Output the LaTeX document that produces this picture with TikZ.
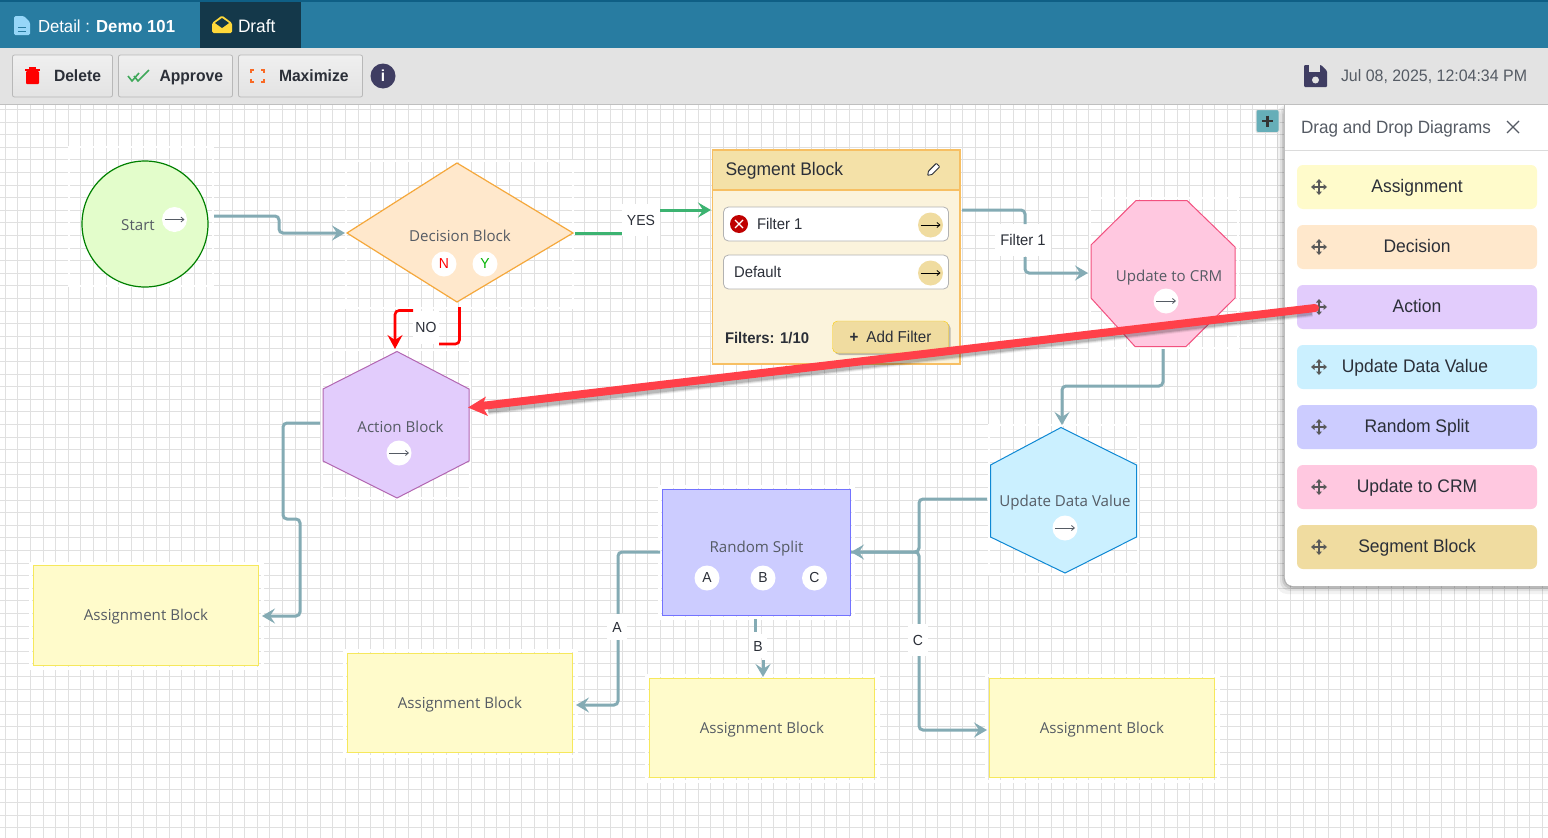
\documentclass[tikz,border=0pt]{standalone}
\usepackage{fontspec}
\setmainfont[FakeStretch=0.96]{Liberation Sans}
\newfontfamily\nodefont{Open Sans}
\usetikzlibrary{arrows.meta,shapes.geometric,shadows,calc}
\definecolor{edgeteal}{HTML}{84ABB4}
\definecolor{inkdark}{HTML}{2B2F38}
\definecolor{labelgray}{HTML}{555B64}
\definecolor{barblue}{HTML}{287CA1}
\definecolor{draftnavy}{HTML}{14384A}
\definecolor{tealtop}{HTML}{0F5F85}
\definecolor{toolgray}{HTML}{E3E3E3}
\definecolor{navyicon}{HTML}{3F3D62}
\definecolor{redarrow}{HTML}{FF4049}
\definecolor{assignfill}{HTML}{FFFBCB}
\definecolor{assigndraw}{HTML}{F6E85C}
\definecolor{decfill}{HTML}{FFE8CC}
\definecolor{actfill}{HTML}{E2CCFC}
\definecolor{updfill}{HTML}{CBF0FF}
\definecolor{splitfill}{HTML}{CCCCFF}
\definecolor{crmfill}{HTML}{FFC8E0}
\definecolor{segfill}{HTML}{F0DCA0}
\definecolor{yesgreen}{HTML}{3CB371}
\definecolor{startfill}{HTML}{E3FDCB}
\definecolor{gridgray}{HTML}{E0E0E0}
\tikzset{
  x=1pt,y=-1pt,
  every node/.style={inner sep=0pt,outer sep=0pt},
  edgeline/.style={draw=edgeteal,line width=3pt,rounded corners=4pt},
  tiparrow/.style={-{Stealth[length=13pt,width=15pt,inset=5pt]}},
  edgelabel/.style={fill=white,text=inkdark,font=\fontsize{14.6}{16}\selectfont,minimum width=24pt,minimum height=24pt},
  blocklabel/.style={font=\nodefont\fontsize{15.1}{17}\selectfont,text=labelgray},
  whitedot/.style={circle,fill=white,minimum size=25pt,font=\fontsize{14.5}{16}\selectfont,text=inkdark},
  frameghost/.style={draw=white,line width=2pt},
  assignblock/.style={draw=assigndraw,fill=assignfill,line width=1.2pt,minimum width=225.5pt,minimum height=99.5pt},
  toolbtn/.style={draw=black!28,rounded corners=2pt,line width=.8pt,top color=toolgray!55,bottom color=toolgray,minimum height=42pt},
  toollabel/.style={font=\bfseries\fontsize{16.3}{18}\selectfont,text=inkdark,anchor=base west},
  palette/.style={rounded corners=6pt,minimum width=240pt,minimum height=44pt},
  palettelabel/.style={font=\fontsize{18.2}{20}\selectfont,text=inkdark,anchor=base},
  filterrow/.style={draw=black!30,fill=white,rounded corners=5pt,line width=.8pt,minimum width=225pt,minimum height=34pt},
  dotarrow/.style={draw=labelgray,line width=.8pt,-{Straight Barb[length=3pt,width=5pt]}},
}
\newcommand{\gonext}[2]{%
  \node[whitedot] (#1) at (#2) {};
  \draw[dotarrow] ($(#1)+(-10,0)$) -- ($(#1)+(10,0)$);}
\newcommand{\segarrow}[2]{%
  \node[circle,fill=segfill,minimum size=25pt] (#1) at (#2) {};
  \draw[draw=black,line width=.8pt,-{Straight Barb[length=3pt,width=5pt]}] ($(#1)+(-10,0)$) -- ($(#1)+(10,0)$);}
\newcommand{\moveicon}[1]{%
  \begin{scope}[shift={(#1)}]
  \draw[black!65,line width=1.6pt] (-6,0) -- (6,0) (0,-6) -- (0,6);
  \fill[black!65] (-8,0) -- (-4.5,-3) -- (-4.5,3) -- cycle (8,0) -- (4.5,-3) -- (4.5,3) -- cycle
    (0,-8) -- (-3,-4.5) -- (3,-4.5) -- cycle (0,8) -- (-3,4.5) -- (3,4.5) -- cycle;
  \end{scope}}
\begin{document}
\begin{tikzpicture}
\useasboundingbox (0,0) rectangle (1548,838);
\fill[white] (0,0) rectangle (1548,838);
% grid
\foreach \k in {0,...,122} {
  \pgfmathsetmacro{\gx}{5.3+12.6*\k}
  \draw[draw=gridgray,line width=1pt] (\gx,105) -- (\gx,838);
}
\foreach \k in {0,...,58} {
  \pgfmathsetmacro{\gy}{109.5+12.6*\k}
  \draw[draw=gridgray,line width=1pt] (0,\gy) -- (1548,\gy);
}
% header
\fill[barblue] (0,0) rectangle (1548,48);
\fill[tealtop] (0,0) rectangle (1548,2);
\fill[draftnavy] (200,2) rectangle (301,48);
\fill[toolgray] (0,48) rectangle (1548,104);
\draw[black!25,line width=1pt] (0,104.5) -- (1548,104.5);
% document icon
\definecolor{docblue}{HTML}{96D6F8}
\fill[rounded corners=1.5pt,fill=docblue] (14,16) -- (24,16) -- (30,22) -- (30,35) -- (14,35) -- cycle;
\draw[barblue,line width=1pt] (18,27) -- (26,27) (18,31) -- (26,31);
\node[anchor=base west,text=white,font=\fontsize{17.4}{20}\selectfont] (title) at (38,32) {Detail : \textbf{Demo 101}};
% envelope icon
\definecolor{envyellow}{HTML}{FFD83A}
\fill[rounded corners=1.5pt,fill=envyellow] (212,23) -- (222,15.5) -- (232,23) -- (232,33) -- (212,33) -- cycle;
\fill[draftnavy] (215,23) -- (222,18) -- (229,23) -- (222,28) -- cycle;
\node[anchor=base west,text=white,font=\fontsize{18}{20}\selectfont] (draft) at (238,32) {Draft};
% toolbar
\node[toolbtn,minimum width=100pt] (btndel) at (62.5,76) {};
\fill[red,rounded corners=1pt] (26,71) rectangle (39,84);
\fill[red] (25,68.5) rectangle (40,70.5);
\fill[red] (29,67) rectangle (36,69);
\node[toollabel] (lbldel) at (54,81) {Delete};
\node[toolbtn,minimum width=114pt] (btnapp) at (175.5,76) {};
\definecolor{okgreen}{HTML}{3FA85A}
\draw[okgreen,line width=1.6pt] (128,76) -- (132,81) -- (139,73);
\draw[okgreen,line width=1.6pt] (134,76) -- (138,81) -- (149,70);
\node[toollabel] (lblapp) at (159.5,81) {Approve};
\node[toolbtn,minimum width=124pt] (btnmax) at (300.5,76) {};
\definecolor{maxorange}{HTML}{F96A25}
\draw[maxorange,line width=1.6pt] (251,73) -- (251,70) -- (254,70) (261,70) -- (264,70) -- (264,73) (264,79) -- (264,82) -- (261,82) (254,82) -- (251,82) -- (251,79);
\node[toollabel] (lblmax) at (279,81) {Maximize};
\node[circle,fill=navyicon,minimum size=25pt,text=white,font=\bfseries\fontsize{16}{18}\selectfont] (info) at (383,76) {i};
% save icon
\fill[navyicon,rounded corners=1pt] (1304,65) -- (1321,65) -- (1327,71) -- (1327,87) -- (1304,87) -- cycle;
\fill[toolgray] (1309,65) rectangle (1320,72);
\fill[toolgray] (1315.5,80) circle (3.5);
\node[anchor=base west,text=labelgray,font=\fontsize{16.6}{18}\selectfont] (stamp) at (1341,81) {Jul 08, 2025, 12:04:34 PM};
% ghost frames around blocks
\draw[frameghost] (69,147) rectangle (213,286);
\draw[frameghost] (346,161) rectangle (573,308);
\draw[frameghost] (1090,198) rectangle (1238,348);
\draw[frameghost] (989,425) rectangle (1138,574);
\draw[frameghost] (322,350) rectangle (470,498);
\draw[white,line width=3pt] (30,563) rectangle (262,668);
\draw[white,line width=3pt] (344,650) rectangle (576,756);
\draw[white,line width=3pt] (646,675) rectangle (878,781);
\draw[white,line width=3pt] (986,675) rectangle (1218,781);
\draw[white,line width=3pt] (659,486) rectangle (853,618);
% blocks
\node[circle,draw=green!50!black,fill=startfill,line width=1.2pt,minimum size=126pt] (start) at (145,224) {};
\node[blocklabel] (startlbl) at (138,225) {Start};
\gonext{startgo}{174.5,219.5}
\coordinate (startout) at (214,216);
\definecolor{decedge}{HTML}{F5A83C}
\draw[fill=decfill,draw=decedge,line width=1.2pt] (347,233) -- (457,163) -- (573,233) -- (457,302) -- cycle;
\coordinate (decW) at (345,233);
\coordinate (decE) at (575,233);
\node[blocklabel] (declbl) at (460,236) {Decision Block};
\node[whitedot,text=red] (decN) at (444,264) {N};
\node[whitedot,text=green!70!black] (decY) at (485,264) {Y};
% segment block
\definecolor{segedge}{HTML}{F7BF63}
\definecolor{segbody}{HTML}{FBF3DC}
\definecolor{seghead}{HTML}{F4E1A8}
\fill[fill=segbody] (712.5,150) rectangle (960,364);
\fill[fill=seghead] (712.5,150) rectangle (960,190);
\draw[segedge,line width=1.2pt] (712.5,150) rectangle (960,364) (712.5,190) -- (960,190);
\node[anchor=base west,text=inkdark,font=\fontsize{18.2}{20}\selectfont] (seghead) at (725.5,175) {Segment Block};
\begin{scope}[shift={(933,170)},rotate=45]
\draw[inkdark,line width=.9pt,fill=white,rounded corners=.6pt] (-4,-2.4) -- (7,-2.4) -- (7,2.4) -- (-4,2.4) -- (-7.5,0) -- cycle;
\end{scope}
\node[filterrow] (row1) at (836,224) {};
\node[circle,fill=red!75!black,minimum size=18pt] (rowx) at (739,224) {};
\draw[white,line width=1.2pt] (735,220) -- (743,228) (743,220) -- (735,228);
\node[anchor=base west,text=inkdark,font=\fontsize{15.5}{17}\selectfont] (f1) at (757,229) {Filter 1};
\segarrow{seg1}{930.5,225}
\node[filterrow] (row2) at (836,272) {};
\node[anchor=base west,text=inkdark,font=\fontsize{15.5}{17}\selectfont] (f2) at (734,277) {Default};
\segarrow{seg2}{930.5,273}
\node[anchor=base west,text=inkdark,font=\bfseries\fontsize{15.5}{17}\selectfont] (fcount) at (725,343) {Filters: 1/10};
\node[draw=yellow!65!orange,fill=segfill,rounded corners=5pt,minimum width=116pt,minimum height=32pt,drop shadow={shadow xshift=2pt,shadow yshift=-2pt,opacity=.5},text=inkdark,font=\fontsize{15.8}{17}\selectfont] (addf) at (890.5,337) {\textbf{+}\hspace{8pt}Add Filter};
% octagon
\draw[fill=crmfill,draw=magenta!55!red!70!white,line width=1pt] (1136,200.5) -- (1187,200.5) -- (1235,247) -- (1235,298) -- (1186,346.5) -- (1135,346.5) -- (1091,298) -- (1091,245) -- cycle;
\coordinate (crmW) at (1088,273);
\coordinate (crmS) at (1163,349);
\node[blocklabel] (crmlbl) at (1169,277.5) {Update to CRM};
\gonext{crmgo}{1166,301}
% action hexagon
\draw[fill=actfill,draw=violet!60!white,line width=1pt] (397,351.5) -- (469,389) -- (469,461) -- (397,498) -- (323,461) -- (323,389) -- cycle;
\coordinate (actN) at (395,349);
\coordinate (actE) at (468,407.5);
\coordinate (actW) at (320,423);
\node[blocklabel] (actlbl) at (400.5,427) {Action Block};
\gonext{actgo}{399,453}
% update data hexagon
\draw[fill=updfill,draw=cyan!70!blue,line width=1pt] (1061,427.5) -- (1136.5,465) -- (1136.5,537) -- (1065,573) -- (990.5,537) -- (990.5,465) -- cycle;
\coordinate (updN) at (1062,425);
\coordinate (updW) at (987,499);
\node[blocklabel] (updlbl) at (1065,502.5) {Update Data Value};
\gonext{updgo}{1065,528}
% random split
\node[draw=blue!55!white,fill=splitfill,line width=1pt,minimum width=188pt,minimum height=126pt] (split) at (756.5,552) {};
\node[blocklabel] (splitlbl) at (756.5,548.5) {Random Split};
\node[whitedot] (splitA) at (707,578) {A};
\node[whitedot] (splitB) at (763,578) {B};
\node[whitedot] (splitC) at (814.5,578) {C};
% assignment blocks
\node[assignblock] (as1) at (146,615.5) {};
\node[blocklabel] (as1lbl) at (146,617) {Assignment Block};
\node[assignblock] (as2) at (460,703) {};
\node[blocklabel] (as2lbl) at (460,705) {Assignment Block};
\node[assignblock] (as3) at (762,728) {};
\node[blocklabel] (as3lbl) at (762,730) {Assignment Block};
\node[assignblock] (as4) at (1102,728) {};
\node[blocklabel] (as4lbl) at (1102,730) {Assignment Block};
% connectors
\draw[edgeline,tiparrow] (startout) -- (279,216) -- (279,233) -- (decW);
\node[edgelabel,minimum width=38pt,minimum height=32pt] (yes) at (641,220) {YES};
\coordinate (yesT) at (711,210);
\draw[draw=yesgreen,line width=3pt] (decE) -- (yes.west |- decE);
\draw[draw=yesgreen,line width=3pt,-{Stealth[length=13pt,width=15pt,inset=5pt]}] (yes.east |- yesT) -- (yesT);
\coordinate (noA) at (459.5,307);
\node[edgelabel,minimum width=26pt,minimum height=33pt] (no) at (426,327) {NO};
\draw[draw=red,line width=2.6pt,rounded corners=4pt] (noA) -- (459.5,344) -- (no.south east |- 0,344);
\draw[draw=red,line width=2.6pt,rounded corners=4pt,-{Stealth[length=14pt,width=15pt,inset=5pt]}] (no.north west |- 0,310.5) -- (395,310.5) -- (actN);
\node[edgelabel,minimum width=56pt,minimum height=32pt,font=\fontsize{15.4}{17}\selectfont] (lblf) at (1023,240) {Filter 1};
\coordinate (segout) at (962,210);
\draw[edgeline] (segout) -- (1025,210) -- (1025,224);
\draw[edgeline,tiparrow] (1025,257) -- (1025,273) -- (crmW);
\draw[edgeline,tiparrow] (crmS) -- (1163,386) -- (1062,386) -- (updN);
\draw[edgeline,tiparrow] (actW) -- (283,423) -- (283,519) -- (300,519) -- (300,616) -- (262,616);
\coordinate (splitE) at (851,552);
\draw[edgeline,tiparrow] (updW) -- (919,499) -- (919,552) -- (splitE);
\draw[edgeline,tiparrow] (splitE) -- (919,552) -- (919,730) -- (987,730);
\draw[edgeline,tiparrow] (660,552) -- (618,552) -- (618,705) -- (576,705);
\node[edgelabel,minimum width=20pt,minimum height=26pt] (lblA) at (617,627) {A};
\draw[edgeline] (755.5,619) -- (755.5,632);
\draw[edgeline,tiparrow] (763,660) -- (763,677);
\node[edgelabel,minimum width=18pt,minimum height=24pt,fill=white] (lblB) at (758,646) {B};
\node[edgelabel,minimum width=20pt,minimum height=32pt] (lblC) at (918,640) {C};
% palette panel
\foreach \m/\o in {8/.05,5/.07,3/.1,1.5/.12}{
  \fill[black,opacity=\o,rounded corners=10pt] (1285-\m,105) rectangle (1560,586+\m);
}
\fill[white,rounded corners=8pt] (1285,105) rectangle (1556,586);
\fill[white] (1285,105) rectangle (1300,120);
\draw[black!14,line width=1pt] (1285,150.5) -- (1548,150.5);
\draw[black!25,line width=.8pt] (1284.5,105) -- (1284.5,578);
\node[anchor=base west,text=labelgray,font=\fontsize{17.8}{20}\selectfont] (ptitle) at (1301,133) {Drag and Drop Diagrams};
\draw[labelgray,line width=1.3pt] (1507,121) -- (1519,133) (1519,121) -- (1507,133);
\foreach \nm/\py/\fc in {a/187/assignfill,b/247/decfill,c/307/actfill,d/367/updfill,e/427/splitfill,f/487/crmfill,g/547/segfill}{
  \node[palette,fill=\fc] (pal\nm) at (1417,\py) {};
  \moveicon{1319,\py}
}
\node[palettelabel] (pa) at (1417,192) {Assignment};
\node[palettelabel] (pb) at (1417,252) {Decision};
\node[palettelabel] (pc) at (1417,312) {Action};
\node[palettelabel] (pd) at (1415,372) {Update Data Value};
\node[palettelabel] (pe) at (1417,432) {Random Split};
\node[palettelabel] (pf) at (1417,492) {Update to CRM};
\node[palettelabel] (pg) at (1417,552) {Segment Block};
% plus button
\definecolor{plusteal}{HTML}{66AEB8}
\node[draw=black!12,fill=plusteal,rounded corners=2pt,line width=1pt,minimum size=23pt] (plus) at (1267.5,121) {};
\draw[black!80,line width=2.4pt] (1262,121) -- (1273,121) (1267.5,115.5) -- (1267.5,126.5);
% big red arrow
\coordinate (bigA) at (1315,308);
\foreach \w/\o in {12/.06,10/.1,8/.14}{
  \draw[black,opacity=\o,line width=\w pt] (1312,311) -- (488,409);
}
\draw[redarrow,line width=8pt,line cap=round] (bigA) -- ($(actE)+(14,-1.6)$);
\fill[redarrow] (actE) -- (486,396.5) -- (482,406) -- (488,416) -- cycle;
\end{tikzpicture}
\end{document}
